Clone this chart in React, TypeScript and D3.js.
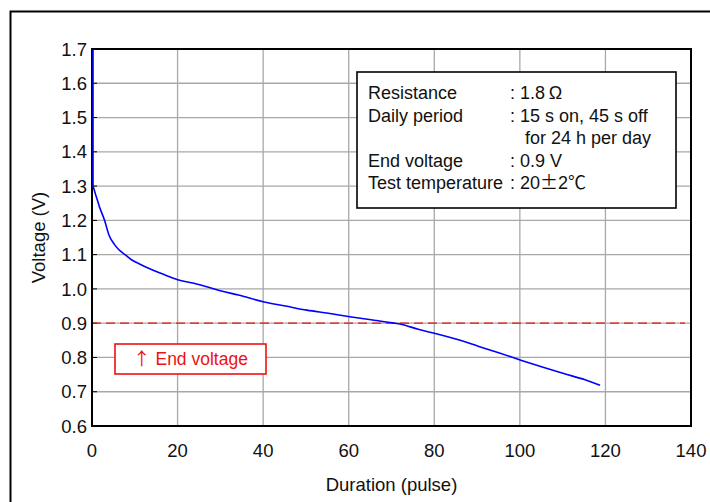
import React from "react";
import * as d3 from "d3";

const pulses = [0, 0, 0.5, 1.5, 2.7, 3.8, 5, 6, 7.5, 9, 11, 13, 16, 20, 24, 27, 30, 34, 40, 45, 50, 55, 60, 65, 70, 72, 76, 80, 85, 90, 95, 100, 105, 110, 115, 118.5];
const voltage = [1.7, 1.3, 1.28, 1.24, 1.2, 1.155, 1.13, 1.115, 1.1, 1.085, 1.072, 1.06, 1.045, 1.026, 1.015, 1.005, 0.994, 0.982, 0.962, 0.95, 0.938, 0.929, 0.919, 0.91, 0.901, 0.897, 0.882, 0.87, 0.853, 0.833, 0.813, 0.792, 0.772, 0.753, 0.735, 0.719];
const xTicks = [0, 20, 40, 60, 80, 100, 120, 140];
const yTicks = [0.6, 0.7, 0.8, 0.9, 1.0, 1.1, 1.2, 1.3, 1.4, 1.5, 1.6, 1.7];
const endVoltage = 0.9;
const legendLabels = ["Resistance", "Daily period", "", "End voltage", "Test temperature"];
const legendValues = [": 1.8\u2009\u03A9", ": 15 s on, 45 s off", "for 24 h per day", ": 0.9 V", ""];

export default function App() {
  const W = 710, H = 502;
  const left = 92, right = 691, top = 49, bottom = 426;
  const x = d3.scaleLinear().domain([0, 140]).range([left, right]);
  const y = d3.scaleLinear().domain([0.6, 1.7]).range([bottom, top]);
  const pts: [number, number][] = pulses.map((p, i) => [p, voltage[i]]);
  const vertical = d3.line<[number, number]>().x(d => x(d[0])).y(d => y(d[1]))(pts.slice(0, 2)) || "";
  const curve = d3.line<[number, number]>().x(d => x(d[0])).y(d => y(d[1])).curve(d3.curveMonotoneX)(pts.slice(1)) || "";
  const font = "Arial, 'Liberation Sans', sans-serif";
  const cjk = "'Noto Sans CJK JP', sans-serif";
  const fs = 18.5;
  return (
    <svg width={W} height={H} style={{ position: "absolute", left: 0, top: 0, fontFamily: font }}>
      <rect x={0} y={0} width={W} height={H} fill="#fff" />
      <rect x={10.5} y={11.5} width={W + 10} height={H + 10} fill="none" stroke="#000" strokeWidth={2} />
      {xTicks.map(t => (
        <line key={"gx" + t} x1={x(t)} x2={x(t)} y1={top} y2={bottom} stroke="#a8a8a8" strokeWidth={1.3} />
      ))}
      {yTicks.map(t => (
        <line key={"gy" + t} x1={left} x2={right} y1={y(t)} y2={y(t)} stroke="#a8a8a8" strokeWidth={1.3} />
      ))}
      {yTicks.map(t => (
        <line key={"ty" + t} x1={left} x2={left + 5} y1={y(t)} y2={y(t)} stroke="#000" strokeWidth={1} />
      ))}
      <line x1={left} x2={right - 6} y1={y(endVoltage)} y2={y(endVoltage)} stroke="#ee1111" strokeWidth={1.3} strokeDasharray="9,5" />
      <rect x={left} y={top} width={right - left} height={bottom - top} fill="none" stroke="#000" strokeWidth={2} />
      <g transform="translate(1,0)" fill="none" stroke="#0000ff" strokeWidth={1.6} strokeLinejoin="round">
        <path d={vertical} />
        <path d={curve} />
      </g>
      {yTicks.map(t => (
        <text key={"ly" + t} x={left - 5} y={y(t)} dy="0.36em" textAnchor="end" fontSize={fs} fill="#111">{t.toFixed(1)}</text>
      ))}
      {xTicks.map(t => (
        <text key={"lx" + t} x={x(t)} y={bottom + 24} dy="0.36em" textAnchor="middle" fontSize={fs} fill="#111">{t}</text>
      ))}
      <text x={(left + right) / 2} y={484} dy="0.36em" textAnchor="middle" fontSize={fs} fill="#111">Duration (pulse)</text>
      <text transform={`translate(38,${(top + bottom) / 2}) rotate(-90)`} dy="0.36em" textAnchor="middle" fontSize={fs} fill="#111">Voltage (V)</text>
      <rect x={357} y={72} width={319} height={136} fill="#fff" stroke="#000" strokeWidth={1.6} />
      {legendLabels.map((l, i) => (
        <text key={"ll" + i} x={368} y={93 + i * 22.5} dy="0.36em" fontSize={18} fill="#111">{l}</text>
      ))}
      {legendValues.map((v, i) => (
        <text key={"lv" + i} x={i === 2 ? 525 : 510} y={93 + i * 22.5} dy="0.36em" fontSize={18} fill="#111">{v}</text>
      ))}
      <text x={510} y={93 + 4 * 22.5} dy="0.36em" fontSize={18} fill="#111">
        {": 20"}<tspan fontFamily={cjk}>{"\u00B1"}</tspan>{"2"}<tspan fontFamily={cjk}>{"\u2103"}</tspan>
      </text>
      <rect x={115} y={344} width={151} height={30} fill="#fff" stroke="#ee1111" strokeWidth={1.6} />
      <text x={190.5} y={359} dy="0.36em" textAnchor="middle" fontSize={17.5} fill="#ee1111">
        <tspan fontFamily={cjk}>{"\u2191"}</tspan>{" End voltage"}
      </text>
    </svg>
  );
}
